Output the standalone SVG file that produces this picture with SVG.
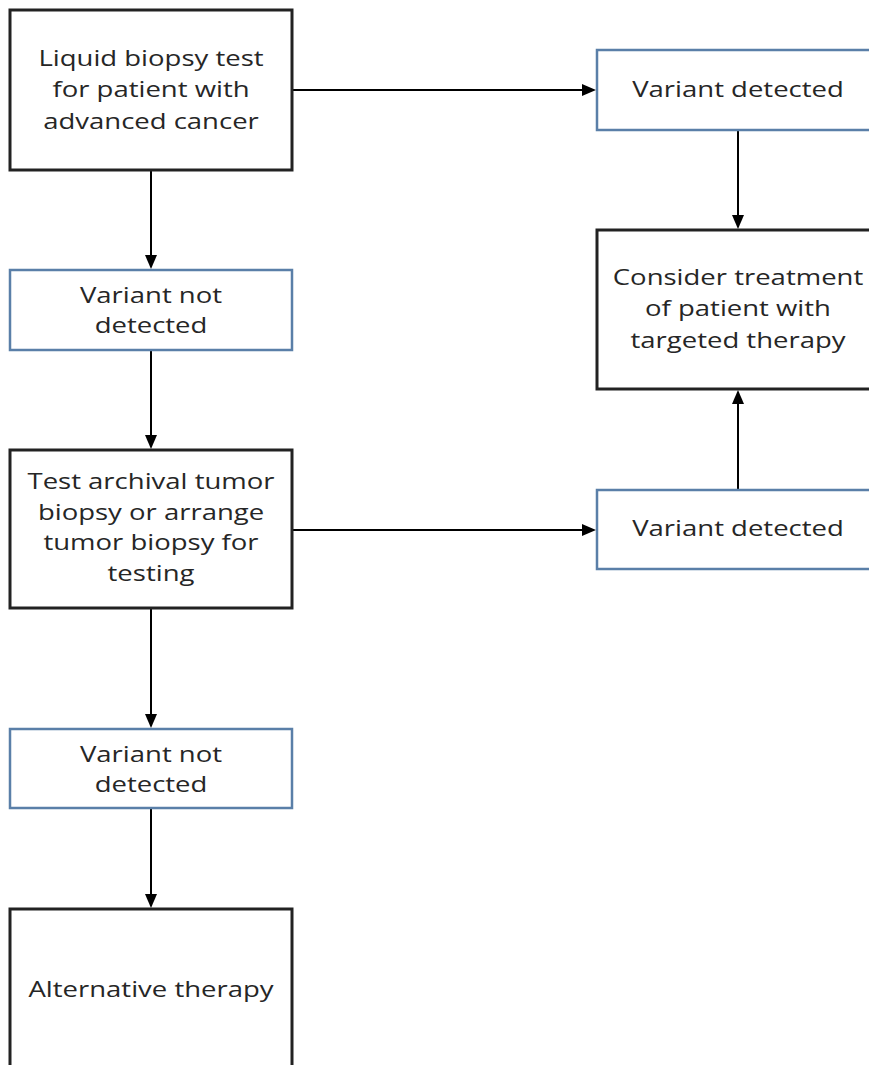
<svg xmlns="http://www.w3.org/2000/svg" width="869" height="1065" viewBox="0 0 869 1065">
<defs>
<style>
.k{fill:#fff;stroke:#222;stroke-width:3}
.b{fill:#fff;stroke:#5a7fa8;stroke-width:2.5}
text{font-family:"Open Sans","DejaVu Sans",sans-serif;font-size:22px;fill:#262626;text-anchor:middle}
.c line{stroke:#000;stroke-width:2}
.c path{fill:#000}
</style>
</defs>
<rect width="869" height="1065" fill="#fff"/>
<g class="c" id="connectors">
<line x1="292" y1="90" x2="590" y2="90"/>
<path d="M582,84 L596,90 L582,96 z"/>
<line x1="151" y1="170" x2="151" y2="262"/>
<path d="M145,255 L151,269 L157,255 z"/>
<line x1="151" y1="350" x2="151" y2="442"/>
<path d="M145,435 L151,449 L157,435 z"/>
<line x1="292" y1="530" x2="590" y2="530"/>
<path d="M582,524 L596,530 L582,536 z"/>
<line x1="151" y1="608" x2="151" y2="721"/>
<path d="M145,714 L151,728 L157,714 z"/>
<line x1="151" y1="808" x2="151" y2="901"/>
<path d="M145,894 L151,908 L157,894 z"/>
<line x1="738" y1="130" x2="738" y2="222"/>
<path d="M732,215 L738,229 L744,215 z"/>
<line x1="738" y1="490" x2="738" y2="397"/>
<path d="M732,404 L738,390 L744,404 z"/>
</g>
<g id="n1"><rect class="k" x="10" y="10" width="282" height="160"/>
<g transform="translate(151,0) scale(1.25,1)"><text x="0" y="66">Liquid biopsy test</text><text x="0" y="97">for patient with</text><text x="0" y="129">advanced cancer</text></g></g>
<g id="n2"><rect class="b" x="10" y="270" width="282" height="80"/>
<g transform="translate(151,0) scale(1.25,1)"><text x="0" y="303">Variant not</text><text x="0" y="333">detected</text></g></g>
<g id="n3"><rect class="k" x="10" y="450" width="282" height="158"/>
<g transform="translate(151,0) scale(1.25,1)"><text x="0" y="489">Test archival tumor</text><text x="0" y="520">biopsy or arrange</text><text x="0" y="550">tumor biopsy for</text><text x="0" y="581">testing</text></g></g>
<g id="n4"><rect class="b" x="10" y="729" width="282" height="79"/>
<g transform="translate(151,0) scale(1.25,1)"><text x="0" y="762">Variant not</text><text x="0" y="792">detected</text></g></g>
<g id="n5"><rect class="k" x="10" y="909" width="282" height="170"/>
<g transform="translate(151,0) scale(1.25,1)"><text x="0" y="997">Alternative therapy</text></g></g>
<g id="n6"><rect class="b" x="597" y="50" width="290" height="80"/>
<g transform="translate(738,0) scale(1.25,1)"><text x="0" y="97">Variant detected</text></g></g>
<g id="n7"><rect class="k" x="597" y="230" width="290" height="159"/>
<g transform="translate(738,0) scale(1.25,1)"><text x="0" y="285">Consider treatment</text><text x="0" y="316">of patient with</text><text x="0" y="348">targeted therapy</text></g></g>
<g id="n8"><rect class="b" x="597" y="490" width="290" height="79"/>
<g transform="translate(738,0) scale(1.25,1)"><text x="0" y="536">Variant detected</text></g></g>
</svg>
